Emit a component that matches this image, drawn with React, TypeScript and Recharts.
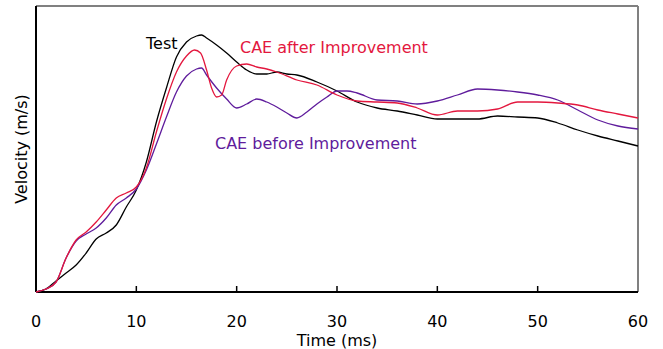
import { Line, LineChart, ReferenceLine, XAxis, YAxis } from 'recharts'

// time (ms) and velocity (arbitrary units, no y scale in the original)
const testTime = [0, 1, 2, 3, 4, 5, 6, 7, 8, 9, 10, 11, 12, 13, 14, 15, 16, 16.5, 17, 18, 19, 20, 21, 22, 23, 24, 25, 26, 28, 30, 32, 34, 36, 38, 40, 42, 44, 46, 48, 50, 52, 54, 56, 58, 60]
const testVel = [0, 3, 11, 19, 27, 39, 53, 59, 67, 85, 102, 130, 170, 204, 235, 250, 256, 257, 254, 247, 239, 230, 222, 218, 218, 220, 218, 217, 210, 201, 190, 184, 181, 177, 173, 173, 173, 176, 175, 174, 169, 162, 156, 151, 146]

const afterTime = [0, 1, 2, 3, 4, 5, 6, 7, 8, 9, 10, 11, 12, 13, 14, 15, 15.8, 16.4, 17, 17.5, 18, 18.5, 19, 20, 21, 22, 23, 24, 26, 28, 30, 32, 34, 36, 38, 40, 42, 44, 46, 48, 50, 52, 54, 56, 58, 60]
const afterVel = [0, 3, 10, 34, 52, 60, 70, 82, 94, 99, 105, 124, 160, 193, 220, 236, 242, 239, 222, 204, 195, 197, 212, 226, 228, 225, 223, 220, 212, 207, 197, 191, 190, 189, 184, 177, 181, 181, 183, 190, 190, 189, 187, 182, 178, 174]

const beforeTime = [0, 1, 2, 3, 4, 5, 6, 7, 8, 9, 10, 11, 12, 13, 14, 15, 16, 16.5, 17, 18, 19, 20, 21, 22, 23, 24, 25, 26, 27, 28, 29, 30, 31, 32, 34, 36, 38, 40, 42, 44, 46, 48, 50, 52, 54, 56, 58, 60]
const beforeVel = [0, 3, 10, 34, 51, 58, 64, 74, 87, 94, 103, 122, 148, 175, 200, 216, 223, 224, 217, 204, 193, 184, 188, 193, 190, 185, 179, 174, 180, 188, 195, 201, 201, 199, 192, 191, 188, 191, 197, 203, 202, 200, 197, 192, 182, 172, 166, 163]

const xTicks = [0, 10, 20, 30, 40, 50, 60]
const Y_MAX = 286

const toRows = (t: number[], v: number[]) => t.map((time, i) => ({ time, v: v[i] }))

const FONT = '"DejaVu Sans", sans-serif'
const RED = '#e3173e'
const PURPLE = '#5f1c9c'

export default function App() {
  return (
    <div style={{ position: 'absolute', left: 0, top: 0, background: '#fff' }}>
      <LineChart width={663} height={349} margin={{ top: 6, right: 25, left: 36, bottom: 0 }}>
        <XAxis
          dataKey="time"
          type="number"
          domain={[0, 60]}
          ticks={xTicks}
          height={57}
          tickLine={false}
          tickMargin={18}
          tick={{ fontSize: 16, fontFamily: FONT, fill: '#000' }}
          axisLine={false}
          allowDuplicatedCategory={false}
        />
        <YAxis type="number" domain={[0, Y_MAX]} width={0} tick={false} tickLine={false} axisLine={false} />
        {/* frame: gray top/right, black left/bottom */}
        <ReferenceLine y={Y_MAX} stroke="#808080" strokeWidth={2} />
        <ReferenceLine x={60} stroke="#808080" strokeWidth={2} />
        <ReferenceLine y={0} stroke="#000" strokeWidth={2} />
        <ReferenceLine x={0} stroke="#000" strokeWidth={2} />
        {/* inward tick marks */}
        {xTicks.slice(1, -1).map((t) => (
          <ReferenceLine
            key={t}
            segment={[
              { x: t, y: 0 },
              { x: t, y: 6 },
            ]}
            stroke="#000"
            strokeWidth={1.5}
          />
        ))}
        <Line
          data={toRows(testTime, testVel)}
          dataKey="v"
          type="monotone"
          stroke="#000"
          strokeWidth={1.3}
          dot={false}
          isAnimationActive={false}
        />
        <Line
          data={toRows(beforeTime, beforeVel)}
          dataKey="v"
          type="monotone"
          stroke={PURPLE}
          strokeWidth={1.3}
          dot={false}
          isAnimationActive={false}
        />
        <Line
          data={toRows(afterTime, afterVel)}
          dataKey="v"
          type="monotone"
          stroke={RED}
          strokeWidth={1.3}
          dot={false}
          isAnimationActive={false}
        />
        <text x={146} y={49} fontSize={16} fontFamily={FONT} fill="#000">Test</text>
        <text x={240} y={53} fontSize={16} fontFamily={FONT} fill={RED}>CAE after Improvement</text>
        <text x={215} y={149} fontSize={16} fontFamily={FONT} fill={PURPLE}>CAE before Improvement</text>
        <text x={337} y={346} textAnchor="middle" fontSize={16} fontFamily={FONT} fill="#000">Time (ms)</text>
        <text
          x={21}
          y={149}
          transform="rotate(-90 21 149)"
          textAnchor="middle"
          dominantBaseline="central"
          fontSize={16}
          fontFamily={FONT}
          fill="#000"
        >
          Velocity (m/s)
        </text>
      </LineChart>
    </div>
  )
}
